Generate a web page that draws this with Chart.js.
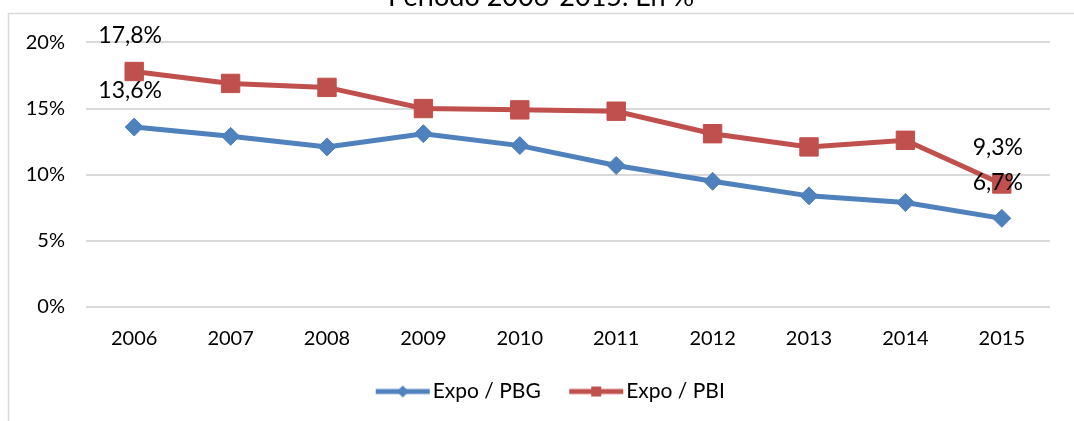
<!DOCTYPE html>
<html>
<head>
<meta charset="utf-8">
<script src="https://cdn.jsdelivr.net/npm/chart.js@4/dist/chart.umd.min.js"></script>
<style>
  html, body { margin: 0; padding: 0; background: #fff; overflow: hidden; }
  #wrap { position: absolute; left: 0; top: -19px; width: 1074px; height: 440px; }
</style>
</head>
<body>
<div id="wrap"><canvas id="c"></canvas></div>
<script>
const title = 'Período 2006-2015. En %';
const years = ['2006', '2007', '2008', '2009', '2010', '2011', '2012', '2013', '2014', '2015'];
const seriesNames = ['Expo / PBG', 'Expo / PBI'];
const expoPBG = [13.6, 12.9, 12.1, 13.1, 12.2, 10.7, 9.5, 8.4, 7.9, 6.7];
const expoPBI = [17.8, 16.9, 16.6, 15.0, 14.9, 14.8, 13.1, 12.1, 12.6, 9.3];
const yTicks = [0, 5, 10, 15, 20];

const BLUE = '#4F81BD';
const RED = '#C0504D';
const FONT = 'Lato, "Open Sans", sans-serif';

function legendIcon(color, shape) {
  const c = document.createElement('canvas');
  c.width = 62; c.height = 20;
  const g = c.getContext('2d');
  g.strokeStyle = color; g.lineWidth = 5; g.lineCap = 'butt';
  g.beginPath(); g.moveTo(4, 10); g.lineTo(58, 10); g.stroke();
  g.fillStyle = color;
  g.beginPath();
  if (shape === 'diamond') {
    g.moveTo(31, 4); g.lineTo(37, 10); g.lineTo(31, 16); g.lineTo(25, 10);
  } else {
    g.rect(26, 5, 10, 10);
  }
  g.closePath(); g.fill();
  return c;
}
const icons = [legendIcon(BLUE, 'diamond'), legendIcon(RED, 'square')];

const frame = {
  id: 'frame',
  beforeDraw(chart) {
    const ctx = chart.ctx;
    ctx.save();
    ctx.strokeStyle = '#d9d9d9';
    ctx.lineWidth = 1.5;
    ctx.beginPath();
    ctx.moveTo(8.5, 500);
    ctx.lineTo(8.5, 32.5);
    ctx.lineTo(1100, 32.5);
    ctx.stroke();
    ctx.restore();
  }
};

const boxShift = {
  id: 'boxShift',
  afterLayout(chart) {
    if (chart.titleBlock) {
      chart.titleBlock.left += 16;
      chart.titleBlock.right += 16;
    }
    if (chart.legend) {
      chart.legend.left += 29;
      chart.legend.right += 29;
    }
  }
};

const endLabels = {
  id: 'endLabels',
  afterDatasetsDraw(chart) {
    const ctx = chart.ctx;
    ctx.save();
    ctx.font = '23px ' + FONT;
    ctx.fillStyle = '#000';
    ctx.textAlign = 'center';
    ctx.textBaseline = 'middle';
    chart.data.datasets.forEach((ds, i) => {
      const meta = chart.getDatasetMeta(i);
      [0, ds.data.length - 1].forEach(idx => {
        const el = meta.data[idx];
        const txt = ds.data[idx].toFixed(1).replace('.', ',') + '%';
        ctx.fillText(txt, el.x - 4, el.y - 36);
      });
    });
    ctx.restore();
  }
};

new Chart(document.getElementById('c'), {
  type: 'line',
  data: {
    labels: years,
    datasets: [
      {
        label: seriesNames[0],
        data: expoPBG,
        borderColor: BLUE,
        backgroundColor: BLUE,
        borderWidth: 5,
        pointStyle: 'rectRot',
        pointRadius: 9,
        pointBorderWidth: 1,
        pointBackgroundColor: BLUE,
        pointBorderColor: BLUE,
        tension: 0
      },
      {
        label: seriesNames[1],
        data: expoPBI,
        borderColor: RED,
        backgroundColor: RED,
        borderWidth: 5,
        pointStyle: 'rect',
        pointRadius: 13,
        pointBorderWidth: 1,
        pointBackgroundColor: RED,
        pointBorderColor: RED,
        tension: 0
      }
    ]
  },
  options: {
    responsive: true,
    maintainAspectRatio: false,
    animation: false,
    layout: { padding: { left: 0, right: 24, top: 0, bottom: 9 } },
    plugins: {
      title: {
        display: true,
        text: title,
        color: '#000',
        font: { family: FONT, size: 27, weight: 'normal', lineHeight: 1.2 },
        padding: { top: 0, bottom: 29 }
      },
      legend: {
        display: true,
        position: 'bottom',
        labels: {
          usePointStyle: true,
          pointStyleWidth: 39,
          boxHeight: 20,
          color: '#000',
          font: { family: FONT, size: 21 },
          padding: 36,
          generateLabels(chart) {
            const items = Chart.defaults.plugins.legend.labels.generateLabels(chart);
            items.forEach((it, i) => { it.pointStyle = icons[i]; });
            return items;
          }
        }
      },
      tooltip: { enabled: false }
    },
    scales: {
      x: {
        offset: true,
        grid: { display: false, drawTicks: false },
        border: { display: false },
        ticks: { color: '#000', font: { family: FONT, size: 20 }, padding: 20, maxRotation: 0 },
        afterFit(scale) { scale.height = 38; }
      },
      y: {
        min: 0,
        max: 20,
        afterBuildTicks(scale) { scale.ticks = yTicks.map(v => ({ value: v })); },
        grid: { color: '#d9d9d9', lineWidth: 2, drawTicks: false },
        border: { display: false },
        ticks: {
          color: '#000',
          font: { family: FONT, size: 20 },
          padding: 21,
          callback: v => v + '%'
        },
        afterFit(scale) { scale.width = 86; }
      }
    }
  },
  plugins: [frame, boxShift, endLabels]
});
</script>
</body>
</html>
